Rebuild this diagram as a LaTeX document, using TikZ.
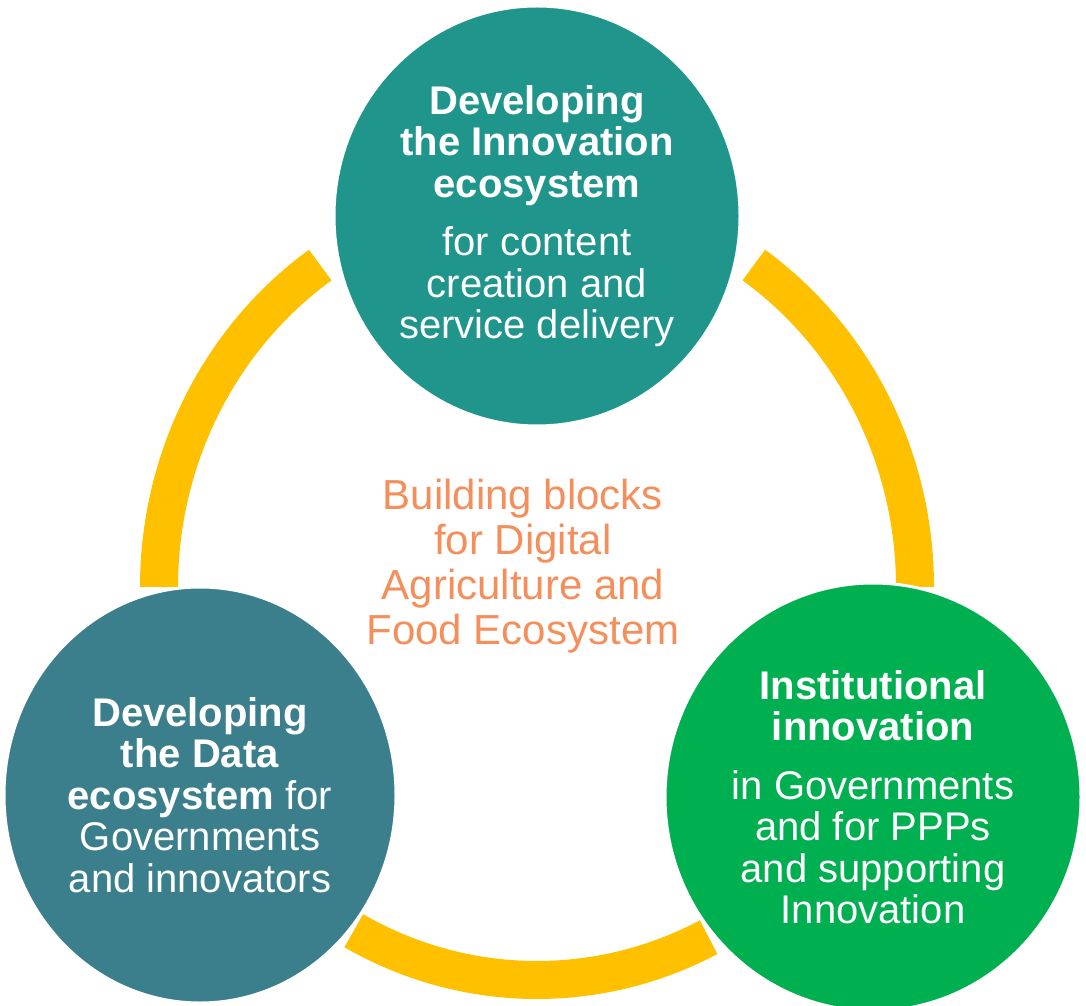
\documentclass[tikz,border=0pt]{standalone}
\usepackage{fontspec}
\setmainfont{Liberation Sans}
\usetikzlibrary{shapes.geometric}
\definecolor{innovteal}{RGB}{31,149,139}
\definecolor{datateal}{RGB}{60,127,140}
\definecolor{instgreen}{RGB}{0,175,80}
\definecolor{ringyellow}{RGB}{255,192,0}
\definecolor{huborange}{RGB}{244,143,91}

\begin{document}
\begin{tikzpicture}[x=1pt,y=1pt,
    ring/.style={draw=ringyellow, line width=38pt, line cap=butt},
    bubble/.style={ellipse, draw=white, line width=3pt, inner sep=0pt, text=white, align=center,
      font=\fontsize{40}{41.5}\selectfont}]
    \useasboundingbox (0,0) rectangle (1086,1005);
    \coordinate (ringc) at (537,418);
    % yellow ring segments
    \draw[ring] ([shift={(0:378 and 393)}]ringc) arc[start angle=0, end angle=55, x radius=378, y radius=393];
    \draw[ring] ([shift={(125:378 and 393)}]ringc) arc[start angle=125, end angle=180, x radius=378, y radius=393];
    \draw[ring] ([shift={(241:378 and 393)}]ringc) arc[start angle=241, end angle=297, x radius=378, y radius=393];
    % the three circles
    \node[bubble, fill=innovteal, minimum width=406pt, minimum height=420pt] (innov) at (537,789)
      {\textbf{Developing}\\\textbf{the Innovation}\\\textbf{ecosystem}\\[17pt]for content\\creation and\\service delivery};
    \node[bubble, fill=datateal, minimum width=392pt, minimum height=416pt] (data) at (200,210)
      {\textbf{Developing}\\\textbf{the Data}\\\textbf{ecosystem} for\\Governments\\and innovators};
    \node[bubble, fill=instgreen, minimum width=416pt, minimum height=428pt] (inst) at (873,208)
      {\textbf{Institutional}\\\textbf{innovation}\\[17pt]in Governments\\and for PPPs\\and supporting\\Innovation};
    % centre label
    \node[text=huborange, align=center, font=\fontsize{42}{45}\selectfont] (hub) at (523,439)
      {Building blocks\\for Digital\\Agriculture and\\Food Ecosystem};
\end{tikzpicture}
\end{document}
